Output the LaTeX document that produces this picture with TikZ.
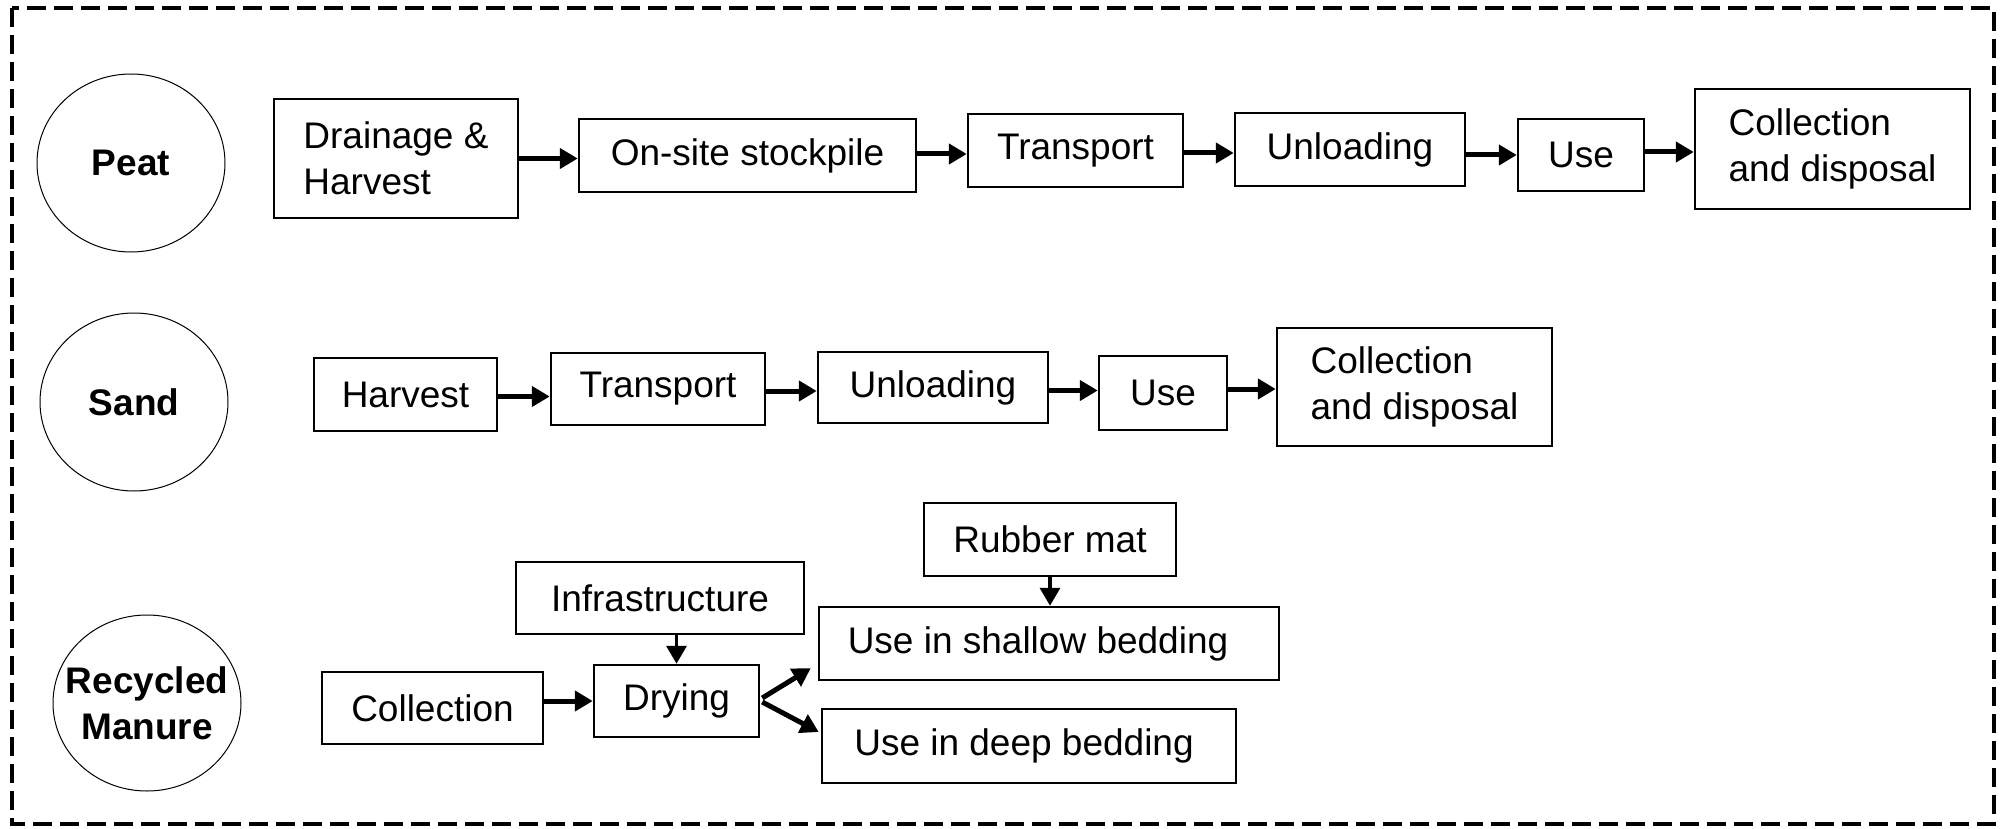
\documentclass[tikz,border=0pt]{standalone}
\usepackage{fontspec}
\setmainfont{Liberation Sans}
\usetikzlibrary{arrows.meta,shapes.geometric}
\begin{document}
\begin{tikzpicture}[x=1pt,y=-1pt,
  box/.style={draw,line width=2.5pt,inner sep=0pt,align=left,font=\fontsize{37}{46}\selectfont},
  src/.style={draw,ellipse,line width=1pt,inner sep=0pt,align=center,font=\fontsize{37}{46}\selectfont\bfseries},
  arr/.style={line width=5pt,-{Triangle[length=18pt,width=20pt]}},
  varr/.style={line width=3.5pt,-{Triangle[length=18pt,width=20pt]}},
  frame/.style={line width=4pt,dash pattern=on 19pt off 8pt}]
\useasboundingbox (0,0) rectangle (2000,829);
\draw[frame] (12,8) rectangle (1994,824);
% sources
\node[src,minimum width=188pt,minimum height=178pt] (peat) at (131,163) {Peat};
\node[src,minimum width=188pt,minimum height=178pt] (sand) at (134,402) {Sand};
\node[src,inner xsep=-16pt,minimum width=188pt,minimum height=176pt] (man) at (147,703) {Recycled\\Manure};
% peat row
\node[box,minimum width=244pt,minimum height=119pt] (dh) at (396,158.5) {Drainage \&\\Harvest};
\node[box,minimum width=337pt,minimum height=73pt] (os) at (747.5,155.5) {On-site stockpile};
\node[box,minimum width=215pt,minimum height=73pt] (tr1) at (1075.5,150.5) {Transport};
\node[box,minimum width=230pt,minimum height=73pt] (un1) at (1350,149.5) {Unloading};
\node[box,minimum width=126pt,minimum height=72pt] (use1) at (1581,155) {Use};
\node[box,minimum width=275pt,minimum height=120pt] (cd1) at (1832.5,149) {Collection\\and disposal};
% sand row
\node[box,minimum width=183pt,minimum height=73pt] (hv) at (405.5,394.5) {Harvest};
\node[box,minimum width=214pt,minimum height=72pt] (tr2) at (658,389) {Transport};
\node[box,minimum width=230pt,minimum height=71pt] (un2) at (933,387.5) {Unloading};
\node[box,minimum width=128pt,minimum height=74pt] (use2) at (1163,393) {Use};
\node[box,minimum width=275pt,minimum height=118pt] (cd2) at (1414.5,387) {Collection\\and disposal};
% manure row
\node[box,minimum width=288pt,minimum height=72pt] (inf) at (660,598) {Infrastructure};
\node[box,minimum width=252pt,minimum height=73pt] (rub) at (1050,539.5) {Rubber mat};
\node[box,minimum width=460pt,minimum height=73pt] (sh) at (1049,643.5) {Use in shallow bedding\hspace{22pt}};
\node[box,minimum width=414pt,minimum height=74pt] (dp) at (1029,746) {Use in deep bedding\hspace{10pt}};
\node[box,minimum width=221pt,minimum height=72pt] (col) at (432.5,708) {Collection};
\node[box,minimum width=165pt,minimum height=72pt] (dry) at (676.5,701) {Drying};
% arrows
\draw[arr] (dh.east) -- (dh.east -| os.west);
\draw[arr] ([yshift=1.5pt]os.east) -- ([yshift=1.5pt]os.east -| tr1.west);
\draw[arr] ([yshift=-2.5pt]tr1.east) -- ([yshift=-2.5pt]tr1.east -| un1.west);
\draw[arr] ([yshift=-5.5pt]un1.east) -- ([yshift=-5.5pt]un1.east -| use1.west);
\draw[arr] ([yshift=3pt]use1.east) -- ([yshift=3pt]use1.east -| cd1.west);
\draw[arr] ([yshift=-2pt]hv.east) -- ([yshift=-2pt]hv.east -| tr2.west);
\draw[arr] ([yshift=-2pt]tr2.east) -- ([yshift=-2pt]tr2.east -| un2.west);
\draw[arr] ([yshift=-3pt]un2.east) -- ([yshift=-3pt]un2.east -| use2.west);
\draw[arr] ([yshift=4pt]use2.east) -- ([yshift=4pt]use2.east -| cd2.west);
\draw[arr] (col.east |- dry.west) -- (dry.west);
\draw[varr] (inf.south -| dry.north) -- (dry.north);
\draw[varr] (rub.south) -- (rub.south |- sh.north);
\draw[arr] ([xshift=2pt,yshift=3pt]dry.east) -- ([xshift=-7pt,yshift=13pt]sh.south west);
\draw[arr] ([xshift=2pt,yshift=-1pt]dry.east) -- ([xshift=-2pt,yshift=14pt]dp.west);
\end{tikzpicture}
\end{document}
